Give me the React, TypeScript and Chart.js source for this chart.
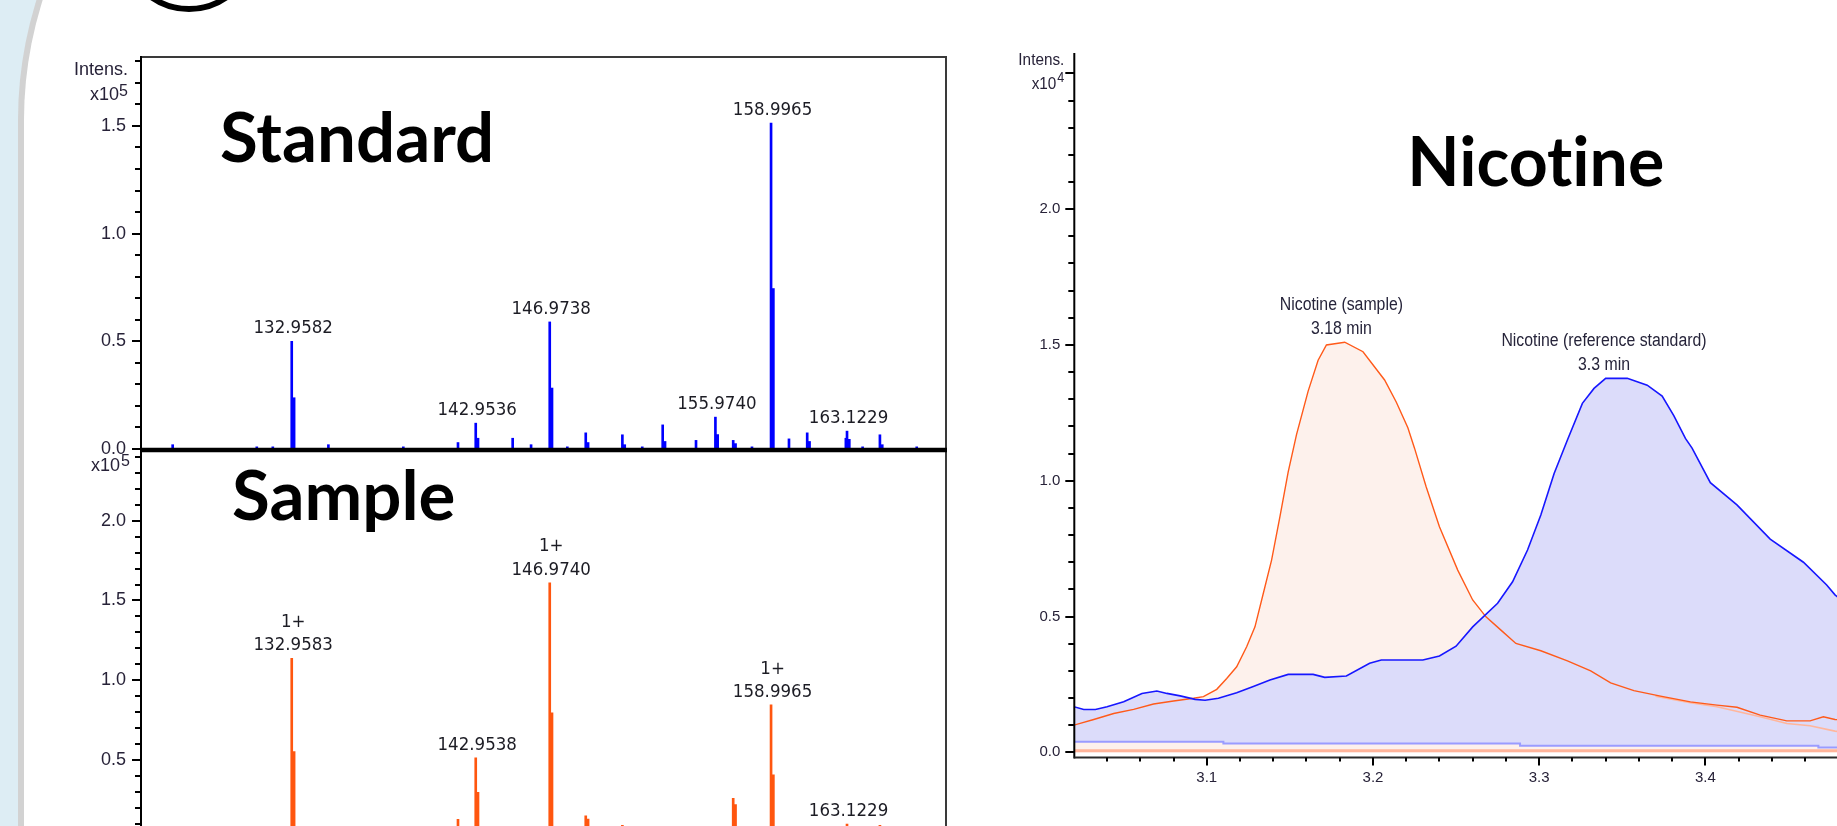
import React, { useEffect, useRef } from 'react';
import { Chart, registerables } from 'chart.js';

Chart.register(...registerables);

// ---------------- Mass spectra (m/z vs intensity, x10^5) ----------------
const mzRange = [124.77, 168.5];
const stdYMax = 1.82;
const smpYMax = 2.437;
const specYTicks = [0, 0.5, 1.0, 1.5, 2.0];

// Standard spectrum: main sticks and their adjacent (isotope) sticks
const stdMainMz = [126.49, 131.06, 131.93, 132.9582, 134.95, 139.02, 141.99, 142.9536, 144.96, 145.96, 146.9738, 147.93, 148.93, 150.92, 152.0, 153.11, 154.92, 155.974, 156.94, 157.96, 158.9965, 159.97, 160.96, 163.06, 163.1229, 163.97, 164.91, 166.91];
const stdMainInt = [0.02, 0.01, 0.01, 0.5, 0.02, 0.01, 0.03, 0.12, 0.05, 0.02, 0.59, 0.01, 0.075, 0.066, 0.01, 0.112, 0.04, 0.148, 0.04, 0.01, 1.513, 0.047, 0.075, 0.05, 0.083, 0.01, 0.066, 0.01];
const stdIsoMz = [133.06, 143.05, 147.07, 149.03, 151.02, 153.21, 156.07, 157.04, 159.095, 161.06, 163.22, 165.01];
const stdIsoInt = [0.238, 0.05, 0.283, 0.03, 0.02, 0.035, 0.067, 0.025, 0.745, 0.035, 0.045, 0.02];

const stdLabelMz = [132.9582, 142.9536, 146.9738, 155.974, 158.9965, 163.1229];
const stdLabelInt = [0.5, 0.12, 0.59, 0.148, 1.513, 0.083];
const stdLabelText = ['132.9582', '142.9536', '146.9738', '155.9740', '158.9965', '163.1229'];

// Sample spectrum
const smpMainMz = [126.49, 132.9583, 141.99, 142.9538, 146.974, 148.93, 150.92, 156.94, 158.9965, 163.1229, 164.91];
const smpMainInt = [0.02, 1.137, 0.128, 0.514, 1.611, 0.15, 0.09, 0.26, 0.845, 0.098, 0.09];
const smpIsoMz = [133.06, 143.05, 147.07, 149.03, 157.04, 159.095];
const smpIsoInt = [0.552, 0.297, 0.796, 0.13, 0.22, 0.406];

const smpLabelMz = [132.9583, 142.9538, 146.974, 158.9965, 163.1229];
const smpLabelInt = [1.137, 0.514, 1.611, 0.845, 0.098];
const smpLabelText = ['132.9583', '142.9538', '146.9740', '158.9965', '163.1229'];
const smpLabelCharge = ['1+', '', '1+', '1+', ''];

// ---------------- Extracted ion chromatogram (x10^4) ----------------
const eicRtRange = [3.0203, 3.4792];
const eicYRange = [-0.019, 2.575];
const eicYTicks = [0, 0.5, 1.0, 1.5, 2.0];
const eicRtTicks = [3.1, 3.2, 3.3, 3.4];

const refRt = [3.02, 3.026, 3.033, 3.04, 3.05, 3.061, 3.07, 3.076, 3.084, 3.093, 3.099, 3.107, 3.118, 3.128, 3.138, 3.149, 3.164, 3.171, 3.184, 3.198, 3.205, 3.23, 3.24, 3.25, 3.26, 3.275, 3.284, 3.293, 3.301, 3.309, 3.317, 3.326, 3.333, 3.34, 3.353, 3.365, 3.374, 3.381, 3.388, 3.392, 3.403, 3.419, 3.439, 3.459, 3.473, 3.478, 3.49];
const refInt = [0.168, 0.158, 0.158, 0.168, 0.186, 0.217, 0.226, 0.217, 0.208, 0.195, 0.192, 0.199, 0.219, 0.242, 0.266, 0.287, 0.287, 0.276, 0.281, 0.328, 0.34, 0.34, 0.355, 0.391, 0.462, 0.549, 0.628, 0.745, 0.874, 1.027, 1.15, 1.285, 1.34, 1.377, 1.377, 1.352, 1.312, 1.24, 1.156, 1.12, 0.993, 0.911, 0.785, 0.7, 0.616, 0.58, 0.52];

const smpRt = [3.02, 3.032, 3.044, 3.056, 3.068, 3.08, 3.092, 3.098, 3.106, 3.112, 3.118, 3.124, 3.129, 3.134, 3.139, 3.144, 3.149, 3.154, 3.161, 3.167, 3.172, 3.183, 3.194, 3.207, 3.214, 3.221, 3.225, 3.232, 3.24, 3.251, 3.26, 3.268, 3.277, 3.286, 3.301, 3.317, 3.331, 3.343, 3.357, 3.373, 3.391, 3.407, 3.419, 3.433, 3.449, 3.463, 3.471, 3.478, 3.49];
const smpInt = [0.1, 0.121, 0.143, 0.158, 0.178, 0.189, 0.199, 0.205, 0.232, 0.272, 0.315, 0.389, 0.462, 0.585, 0.708, 0.867, 1.033, 1.17, 1.33, 1.444, 1.5, 1.51, 1.475, 1.371, 1.29, 1.195, 1.12, 0.978, 0.831, 0.671, 0.561, 0.499, 0.45, 0.401, 0.374, 0.337, 0.3, 0.256, 0.227, 0.207, 0.186, 0.174, 0.166, 0.137, 0.116, 0.116, 0.131, 0.121, 0.115];

const smpTailRt = [3.37, 3.391, 3.407, 3.433, 3.449, 3.463, 3.478, 3.49];
const smpTailInt = [0.207, 0.183, 0.168, 0.131, 0.106, 0.098, 0.078, 0.07];

const refBaseRt = [3.02, 3.11, 3.2885, 3.468, 3.49];
const refBaseInt = [0.039, 0.033, 0.024, 0.018, 0.018];
const smpBaseRt = [3.02, 3.49];
const smpBaseInt = [0.006, 0.006];

const eicLabelRt = [3.181, 3.339];
const eicLabelInt = [1.51, 1.377];
const eicLabelName = ['Nicotine (sample)', 'Nicotine (reference standard)'];
const eicLabelTime = ['3.18 min', '3.3 min'];

// ---------------- styling ----------------
const SANS = '"Liberation Sans", Arial, sans-serif';
const TXT = '#272238';
const BLUE = '#0000ff';
const ORANGE = '#ff560f';
const TITLE_FONT = `bold 69px Lato, "Open Sans", sans-serif`;

const boxStd = { left: 0, top: 0, width: 960, height: 480 };
const boxSmp = { left: 0, top: 421, width: 960, height: 459 };
const boxEic = { left: 960, top: 20, width: 877, height: 806 };

function seg(ctx: any, x1: number, y1: number, x2: number, y2: number, color: string, w: number) {
  ctx.strokeStyle = color;
  ctx.lineWidth = w;
  ctx.beginPath();
  ctx.moveTo(x1, y1);
  ctx.lineTo(x2, y2);
  ctx.stroke();
}

function txt(ctx: any, s: string, x: number, y: number, font: string, align: string, sx = 1, color = TXT, spacing = '0px') {
  ctx.save();
  ctx.font = font;
  ctx.fillStyle = color;
  ctx.textAlign = align;
  ctx.textBaseline = 'alphabetic';
  if ('letterSpacing' in ctx) ctx.letterSpacing = spacing;
  ctx.translate(x, y);
  ctx.scale(sx, 1);
  ctx.fillText(s, 0, 0);
  ctx.restore();
}

function vTicks(ctx: any, scale: any, axisX: number, maxV: number, step: number, majorEvery: number, majLen: number, minLen: number) {
  const n = Math.floor(maxV / step + 1e-6);
  for (let i = 0; i <= n; i++) {
    const py = Math.round(scale.getPixelForValue(i * step));
    const len = i % majorEvery === 0 ? majLen : minLen;
    seg(ctx, axisX - len, py, axisX, py, '#000', 2);
  }
}

function specConfig(kind: 'std' | 'smp') {
  const isStd = kind === 'std';
  const mainMz = isStd ? stdMainMz : smpMainMz;
  const mainInt = isStd ? stdMainInt : smpMainInt;
  const isoMz = isStd ? stdIsoMz : smpIsoMz;
  const isoInt = isStd ? stdIsoInt : smpIsoInt;
  const color = isStd ? BLUE : ORANGE;
  const yMax = isStd ? stdYMax : smpYMax;
  const box = isStd ? boxStd : boxSmp;

  const decor = {
    id: 'specDecor',
    afterDraw(chart: any) {
      const { ctx, chartArea: ca, scales } = chart;
      const x = scales.x;
      const y = scales.y;
      ctx.save();
      const bottomExt = isStd ? ca.bottom : box.height;
      if (isStd) {
        seg(ctx, ca.left, ca.top, ca.right + 1, ca.top, '#3a3a3a', 2);
      }
      seg(ctx, ca.right, ca.top, ca.right, bottomExt, '#3a3a3a', 2);
      seg(ctx, ca.left, ca.top - 1, ca.left, bottomExt, '#000', 2);
      if (isStd) seg(ctx, ca.left, ca.bottom, ca.right + 1, ca.bottom, '#000', 2.5);
      else seg(ctx, ca.left, ca.top, ca.right + 1, ca.top, '#000', 2.5);
      vTicks(ctx, y, ca.left, yMax, 0.1, 5, 9, 6);

      // axis caption
      if (isStd) {
        txt(ctx, 'Intens.', ca.left - 13, ca.top + 18, `18px ${SANS}`, 'right');
        txt(ctx, 'x10', ca.left - 22, ca.top + 43, `18px ${SANS}`, 'right');
        txt(ctx, '5', ca.left - 13, ca.top + 39, `16px ${SANS}`, 'right');
      } else {
        txt(ctx, 'x10', ca.left - 21, ca.top + 20, `18px ${SANS}`, 'right');
        txt(ctx, '5', ca.left - 11, ca.top + 15, `16px ${SANS}`, 'right');
      }

      // peak labels
      const lMz = isStd ? stdLabelMz : smpLabelMz;
      const lInt = isStd ? stdLabelInt : smpLabelInt;
      const lTxt = isStd ? stdLabelText : smpLabelText;
      const font = `18.5px "DejaVu Sans", Tahoma, sans-serif`;
      for (let i = 0; i < lMz.length; i++) {
        const px = x.getPixelForValue(lMz[i]) + 1.5;
        const py = y.getPixelForValue(lInt[i]) - 8;
        txt(ctx, lTxt[i], px, py, font, 'center', 0.9, '#1c1c24');
        if (!isStd && smpLabelCharge[i]) {
          txt(ctx, smpLabelCharge[i], px, py - 23.3, font, 'center', 0.9, '#1c1c24');
        }
      }

      // big title
      if (isStd) txt(ctx, 'Standard', ca.left + 79, ca.top + 105, TITLE_FONT, 'left', 1, '#000', '0.01px');
      else txt(ctx, 'Sample', ca.left + 91, ca.top + 69, TITLE_FONT, 'left', 1, '#000', '0.01px');
      ctx.restore();
    },
  };

  return {
    type: 'bar',
    data: {
      datasets: [
        { data: mainMz.map((v, i) => ({ x: v, y: mainInt[i] })), backgroundColor: color, barThickness: 2, grouped: false, borderWidth: 0 },
        { data: isoMz.map((v, i) => ({ x: v, y: isoInt[i] })), backgroundColor: color, barThickness: 3, grouped: false, borderWidth: 0 },
      ],
    },
    options: {
      responsive: false,
      animation: false,
      devicePixelRatio: 1,
      events: [],
      layout: { padding: isStd ? { left: 0, right: 14, top: 57, bottom: 31 } : { left: 0, right: 14, top: 30, bottom: 40.3 } },
      scales: {
        x: { type: 'linear', min: mzRange[0], max: mzRange[1], offset: false, display: false },
        y: {
          type: 'linear',
          min: 0,
          max: yMax,
          afterBuildTicks: (s: any) => { s.ticks = specYTicks.filter((v) => v <= s.max).map((v) => ({ value: v })); },
          afterFit: (s: any) => { s.width = 141; },
          ticks: { padding: 15, color: TXT, font: { family: SANS, size: 18 }, autoSkip: false, callback: (v: any) => Number(v).toFixed(1) },
          grid: { display: false, drawTicks: false },
          border: { display: false },
        },
      },
      plugins: { legend: { display: false }, tooltip: { enabled: false } },
    },
    plugins: [decor],
  };
}

function eicConfig() {
  const decor = {
    id: 'eicDecor',
    afterDraw(chart: any) {
      const { ctx, chartArea: ca, scales } = chart;
      const x = scales.x;
      const y = scales.y;
      ctx.save();
      seg(ctx, ca.left, ca.top, ca.left, ca.bottom + 1, '#000', 2);
      seg(ctx, ca.left, ca.bottom, ca.right + 2, ca.bottom, '#2a2a2a', 2);
      vTicks(ctx, y, ca.left, 2.5, 0.1, 5, 9, 6);
      for (let i = 151; i <= 174; i++) {
        const v = i * 0.02;
        const px = Math.round(x.getPixelForValue(v));
        if (px < ca.left + 2 || px > ca.right) continue;
        const len = i % 5 === 0 ? 8 : 4;
        seg(ctx, px, ca.bottom, px, ca.bottom + len, '#000', 2);
      }
      txt(ctx, 'Intens.', ca.left - 10, ca.top + 12, `17px ${SANS}`, 'right', 0.9);
      txt(ctx, 'x10', ca.left - 18, ca.top + 36, `17px ${SANS}`, 'right', 0.9);
      txt(ctx, '4', ca.left - 10, ca.top + 29, `14px ${SANS}`, 'right', 0.9);

      const f = `18px ${SANS}`;
      for (let i = 0; i < eicLabelRt.length; i++) {
        const px = x.getPixelForValue(eicLabelRt[i]);
        const py = y.getPixelForValue(eicLabelInt[i]);
        txt(ctx, eicLabelTime[i], px, py - 8, f, 'center', 0.88, '#26243a');
        txt(ctx, eicLabelName[i], px, py - 32, f, 'center', 0.88, '#26243a');
      }
      txt(ctx, 'Nicotine', ca.left + 333, ca.top + 133, TITLE_FONT, 'left', 0.985, '#000', '0.01px');
      ctx.restore();
    },
  };

  const pts = (xs: number[], ys: number[]) => xs.map((v, i) => ({ x: v, y: ys[i] }));

  return {
    type: 'line',
    data: {
      datasets: [
        { data: pts(refRt, refInt), borderColor: '#1717ff', borderWidth: 1.6, backgroundColor: '#dcdcfa', fill: 2, pointRadius: 0, tension: 0 },
        { data: pts(smpRt, smpInt), borderColor: '#ff5a1a', borderWidth: 1.4, backgroundColor: '#fdf1ec', fill: 'origin', pointRadius: 0, tension: 0 },
        { data: pts(refBaseRt, refBaseInt), borderColor: '#9a9cff', borderWidth: 2, fill: false, pointRadius: 0, stepped: 'before' },
        { data: pts(smpBaseRt, smpBaseInt), borderColor: '#ffb49a', borderWidth: 3, fill: false, pointRadius: 0 },
        { data: pts(smpTailRt, smpTailInt), borderColor: '#ffb69c', borderWidth: 1.6, fill: false, pointRadius: 0, tension: 0 },
      ],
    },
    options: {
      responsive: false,
      animation: false,
      devicePixelRatio: 1,
      events: [],
      layout: { padding: { left: 0, right: 0, top: 33, bottom: 0 } },
      scales: {
        x: {
          type: 'linear',
          min: eicRtRange[0],
          max: eicRtRange[1],
          afterBuildTicks: (s: any) => { s.ticks = eicRtTicks.map((v) => ({ value: v })); },
          afterFit: (s: any) => { s.height = 68.5; },
          ticks: { padding: 11.5, color: TXT, font: { family: SANS, size: 15 }, autoSkip: false, maxRotation: 0, callback: (v: any) => Number(v).toFixed(1) },
          grid: { display: false, drawTicks: false },
          border: { display: false },
        },
        y: {
          type: 'linear',
          min: eicYRange[0],
          max: eicYRange[1],
          afterBuildTicks: (s: any) => { s.ticks = eicYTicks.map((v) => ({ value: v })); },
          afterFit: (s: any) => { s.width = 114.3; },
          ticks: { padding: 14, color: TXT, font: { family: SANS, size: 15 }, autoSkip: false, callback: (v: any) => Number(v).toFixed(1) },
          grid: { display: false, drawTicks: false },
          border: { display: false },
        },
      },
      plugins: {
        legend: { display: false },
        tooltip: { enabled: false },
        filler: { propagate: false, drawTime: 'beforeDatasetsDraw' },
      },
    },
    plugins: [decor],
  };
}

function ChartCanvas({ box, make }: { box: any; make: () => any }) {
  const ref = useRef<HTMLCanvasElement>(null);
  useEffect(() => {
    const chart = new Chart(ref.current as HTMLCanvasElement, make());
    return () => chart.destroy();
  }, []);
  return (
    <canvas
      ref={ref}
      width={box.width}
      height={box.height}
      style={{ position: 'absolute', left: box.left, top: box.top, width: box.width, height: box.height }}
    />
  );
}

export default function App() {
  return (
    <div style={{ position: 'fixed', left: 0, top: 0, width: 1837, height: 826, overflow: 'hidden', background: '#ddedf4' }}>
      <div
        style={{
          position: 'absolute', left: 18, top: -280, width: 2300, height: 1500, background: '#fff',
          borderLeft: '6px solid #d2d2d2', borderTop: '6px solid #d2d2d2', borderTopLeftRadius: 400, boxSizing: 'border-box',
        }}
      />
      <div
        style={{
          position: 'absolute', left: 121, top: -124, width: 136, height: 136, border: '6px solid #000',
          borderRadius: '50%', boxSizing: 'border-box',
        }}
      />
      <ChartCanvas box={boxStd} make={() => specConfig('std')} />
      <ChartCanvas box={boxSmp} make={() => specConfig('smp')} />
      <ChartCanvas box={boxEic} make={eicConfig} />
    </div>
  );
}
